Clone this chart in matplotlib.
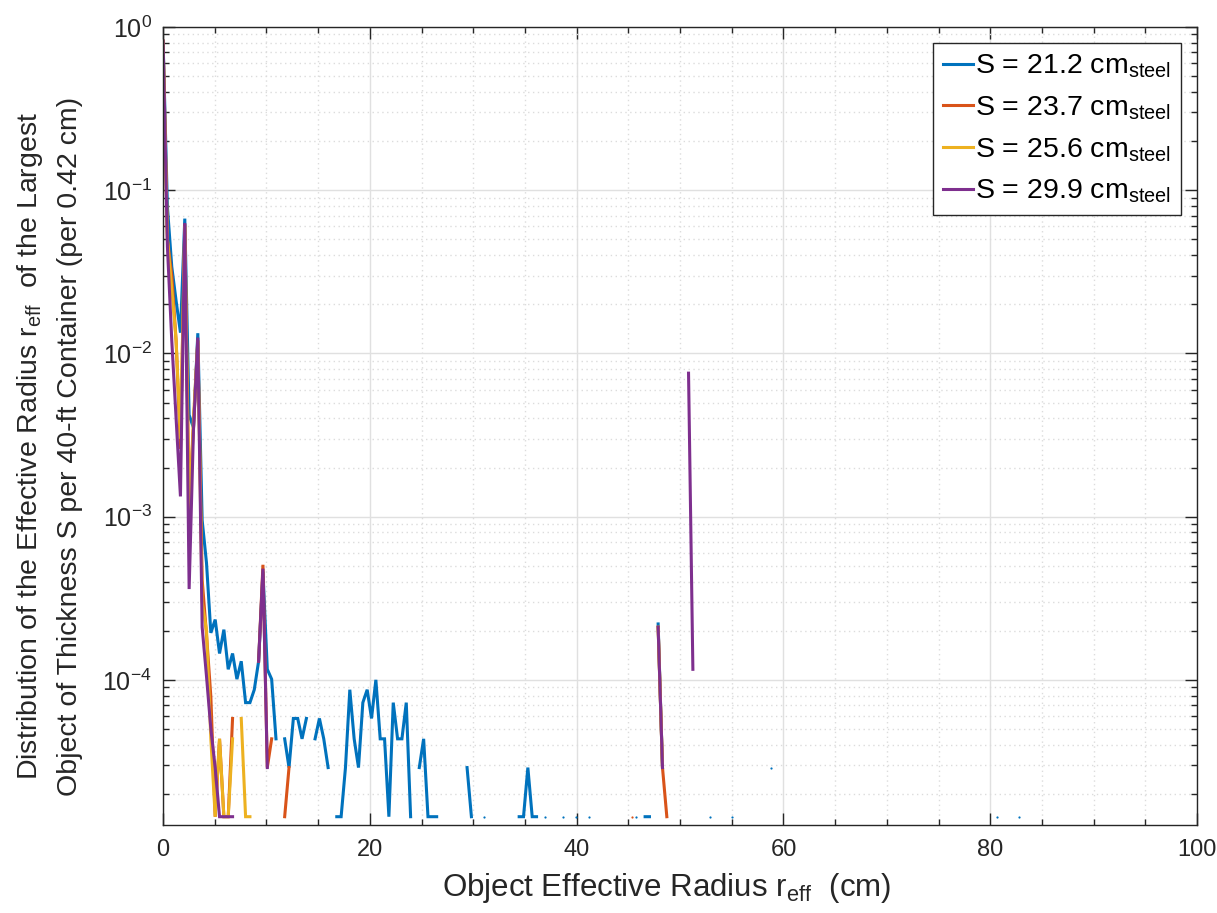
import numpy as np
import matplotlib.pyplot as plt
from matplotlib.ticker import MultipleLocator, LogLocator, NullFormatter

plt.rcParams['font.family'] = ['Liberation Sans', 'DejaVu Sans']
plt.rcParams['mathtext.fontset'] = 'custom'
plt.rcParams['mathtext.rm'] = 'Liberation Sans'
plt.rcParams['mathtext.it'] = 'Liberation Sans:italic'
plt.rcParams['mathtext.bf'] = 'Liberation Sans:bold'

nan = np.nan
bin_width = 0.42
n_bins = 240

# distribution per 0.42 cm bin, bins 0..63 (NaN = empty bin)
s212_head = [0.82, 0.079, 0.034, 0.021, 0.0134, 0.067, 4.2e-3, 3.5e-3, 0.0133, 9.5e-4,
             5.2e-4, 1.94e-4, 2.34e-4, 1.45e-4, 2.03e-4, 1.16e-4, 1.45e-4, 1.01e-4, 1.3e-4, 7.25e-5,
             7.25e-5, 8.7e-5, 1.3e-4, 4.6e-4, 1.16e-4, 1.01e-4, 4.35e-5, nan, 4.35e-5, 2.9e-5,
             5.8e-5, 5.8e-5, 4.35e-5, 5.8e-5, nan, 4.35e-5, 5.8e-5, 4.35e-5, 2.9e-5, nan,
             1.45e-5, 1.45e-5, 2.9e-5, 8.7e-5, 4.35e-5, 2.9e-5, 7.25e-5, 8.7e-5, 5.8e-5, 1.0e-4,
             4.35e-5, 4.35e-5, 1.45e-5, 7.25e-5, 4.35e-5, 4.35e-5, 7.25e-5, 1.45e-5, nan, 2.9e-5,
             4.35e-5, 1.45e-5, 1.45e-5, 1.45e-5]
s237_head = [0.82, 0.05, 0.03, 0.012, 2.6e-3, 0.062, 1.2e-3, 3.5e-3, 0.012, 4.1e-4,
             1.9e-4, 7.9e-5, 1.45e-5, 4.35e-5, 1.45e-5, 1.45e-5, 5.8e-5, nan, nan, nan,
             nan, nan, 1.3e-4, 5.07e-4, 2.9e-5, 4.35e-5]
s256_head = [0.82, 0.05, 0.025, 0.012, 3.0e-3, 0.06, 1.0e-3, 4.0e-3, 0.012, 3.0e-4,
             2.0e-4, 4.35e-5, 1.45e-5, 4.35e-5, 1.45e-5, 1.45e-5, 4.35e-5, nan, 5.8e-5, 1.45e-5,
             1.45e-5]
s299_head = [0.82, 0.045, 0.012, 4.0e-3, 1.33e-3, 0.063, 3.6e-4, 3.4e-3, 0.0125, 2.1e-4,
             1.05e-4, 5.0e-5, 2.9e-5, 1.45e-5, 1.45e-5, 1.45e-5, 1.45e-5, nan, nan, nan,
             nan, nan, 1.3e-4, 4.8e-4, 2.9e-5]

# sparse bins further out
s212_tail_bins = [70, 71, 74, 82, 83, 84, 85, 86, 88, 92, 95, 98, 109, 111, 112,
                  114, 115, 126, 131, 140, 192, 197]
s212_tail_vals = [2.9e-5, 1.45e-5, 1.45e-5, 1.45e-5, 1.45e-5, 2.9e-5, 1.45e-5, 1.45e-5,
                  1.45e-5, 1.45e-5, 1.45e-5, 1.45e-5, 1.45e-5, 1.45e-5, 1.45e-5,
                  2.2e-4, 2.9e-5, 1.45e-5, 1.45e-5, 2.9e-5, 1.45e-5, 1.45e-5]
s237_tail_bins = [28, 29, 108, 114, 115, 116]
s237_tail_vals = [1.45e-5, 2.9e-5, 1.45e-5, 2.1e-4, 2.9e-5, 1.45e-5]
s256_tail_bins = [114, 115]
s256_tail_vals = [2.1e-4, 2.9e-5]
s299_tail_bins = [114, 115, 121, 122]
s299_tail_vals = [2.1e-4, 2.9e-5, 7.57e-3, 1.16e-4]

labels = ['S = 21.2 cm$_{\\rm steel}$', 'S = 23.7 cm$_{\\rm steel}$',
          'S = 25.6 cm$_{\\rm steel}$', 'S = 29.9 cm$_{\\rm steel}$']
colors = ['#0072BD', '#D95319', '#EDB120', '#7E2F8E']


def build(head, tail_bins, tail_vals):
    y = np.full(n_bins, nan)
    y[:len(head)] = head
    y[tail_bins] = tail_vals
    return y


series = [build(s212_head, s212_tail_bins, s212_tail_vals),
          build(s237_head, s237_tail_bins, s237_tail_vals),
          build(s256_head, s256_tail_bins, s256_tail_vals),
          build(s299_head, s299_tail_bins, s299_tail_vals)]
r = np.arange(n_bins) * bin_width

fig = plt.figure(figsize=(12.17, 9.13), dpi=100)
ax = fig.add_axes([0.134, 0.0964, 0.8496, 0.874])

for y, c, lab in zip(series, colors, labels):
    ax.plot(r, y, color=c, lw=2.2, label=lab, solid_joinstyle='miter')
    # lone filled bins show up as dots
    prev = np.r_[nan, y[:-1]]
    nxt = np.r_[y[1:], nan]
    lone = np.isfinite(y) & np.isnan(prev) & np.isnan(nxt)
    ax.plot(r[lone], y[lone], ls='none', marker='o', ms=1.6, color=c, mew=0)

ax.set_yscale('log')
ax.set_xlim(0, 100)
ax.set_ylim(1.29e-5, 1)
ax.xaxis.set_major_locator(MultipleLocator(20))
ax.xaxis.set_minor_locator(MultipleLocator(5))
ax.yaxis.set_major_locator(LogLocator(base=10, numticks=10))
ax.yaxis.set_minor_locator(LogLocator(base=10, subs=np.arange(2, 10), numticks=20))
ax.yaxis.set_minor_formatter(NullFormatter())

ax.grid(True, which='major', color='#e0e0e0', lw=1.0, ls='-')
ax.grid(True, which='minor', color='#dcdcdc', lw=1.0, ls=(0, (1, 2.5)))
ax.set_axisbelow(True)

ax.tick_params(which='both', direction='in', top=True, right=True,
               labelsize=17, colors='#262626', width=1.0)
ax.tick_params(axis='y', labelsize=18)
ax.tick_params(which='major', length=8.5, pad=8)
ax.tick_params(axis='x', which='major', pad=10)
ax.tick_params(which='minor', length=4.5)
for sp in ax.spines.values():
    sp.set_color('#262626')
    sp.set_linewidth(1.0)

ax.set_xlabel('Object Effective Radius r$_{\\rm eff}$  (cm)', fontsize=22.5, color='#262626')
ax.xaxis.set_label_coords(0.487, -0.058)
ax.set_ylabel('Distribution of the Effective Radius r$_{\\rm eff}$  of the Largest\n'
              'Object of Thickness S per 40-ft Container (per 0.42 cm)',
              fontsize=20.5, color='#262626', linespacing=1.6)
ax.yaxis.set_label_coords(-0.077, 0.475)

leg = ax.legend(loc='upper right', fontsize=20.5, frameon=True, fancybox=False,
                edgecolor='#262626', framealpha=1, handlelength=1.05,
                handletextpad=0.1, borderpad=0.35, labelspacing=0.5,
                borderaxespad=0.55)
leg.get_frame().set_linewidth(1.0)

fig.savefig('out.png', dpi=100)
